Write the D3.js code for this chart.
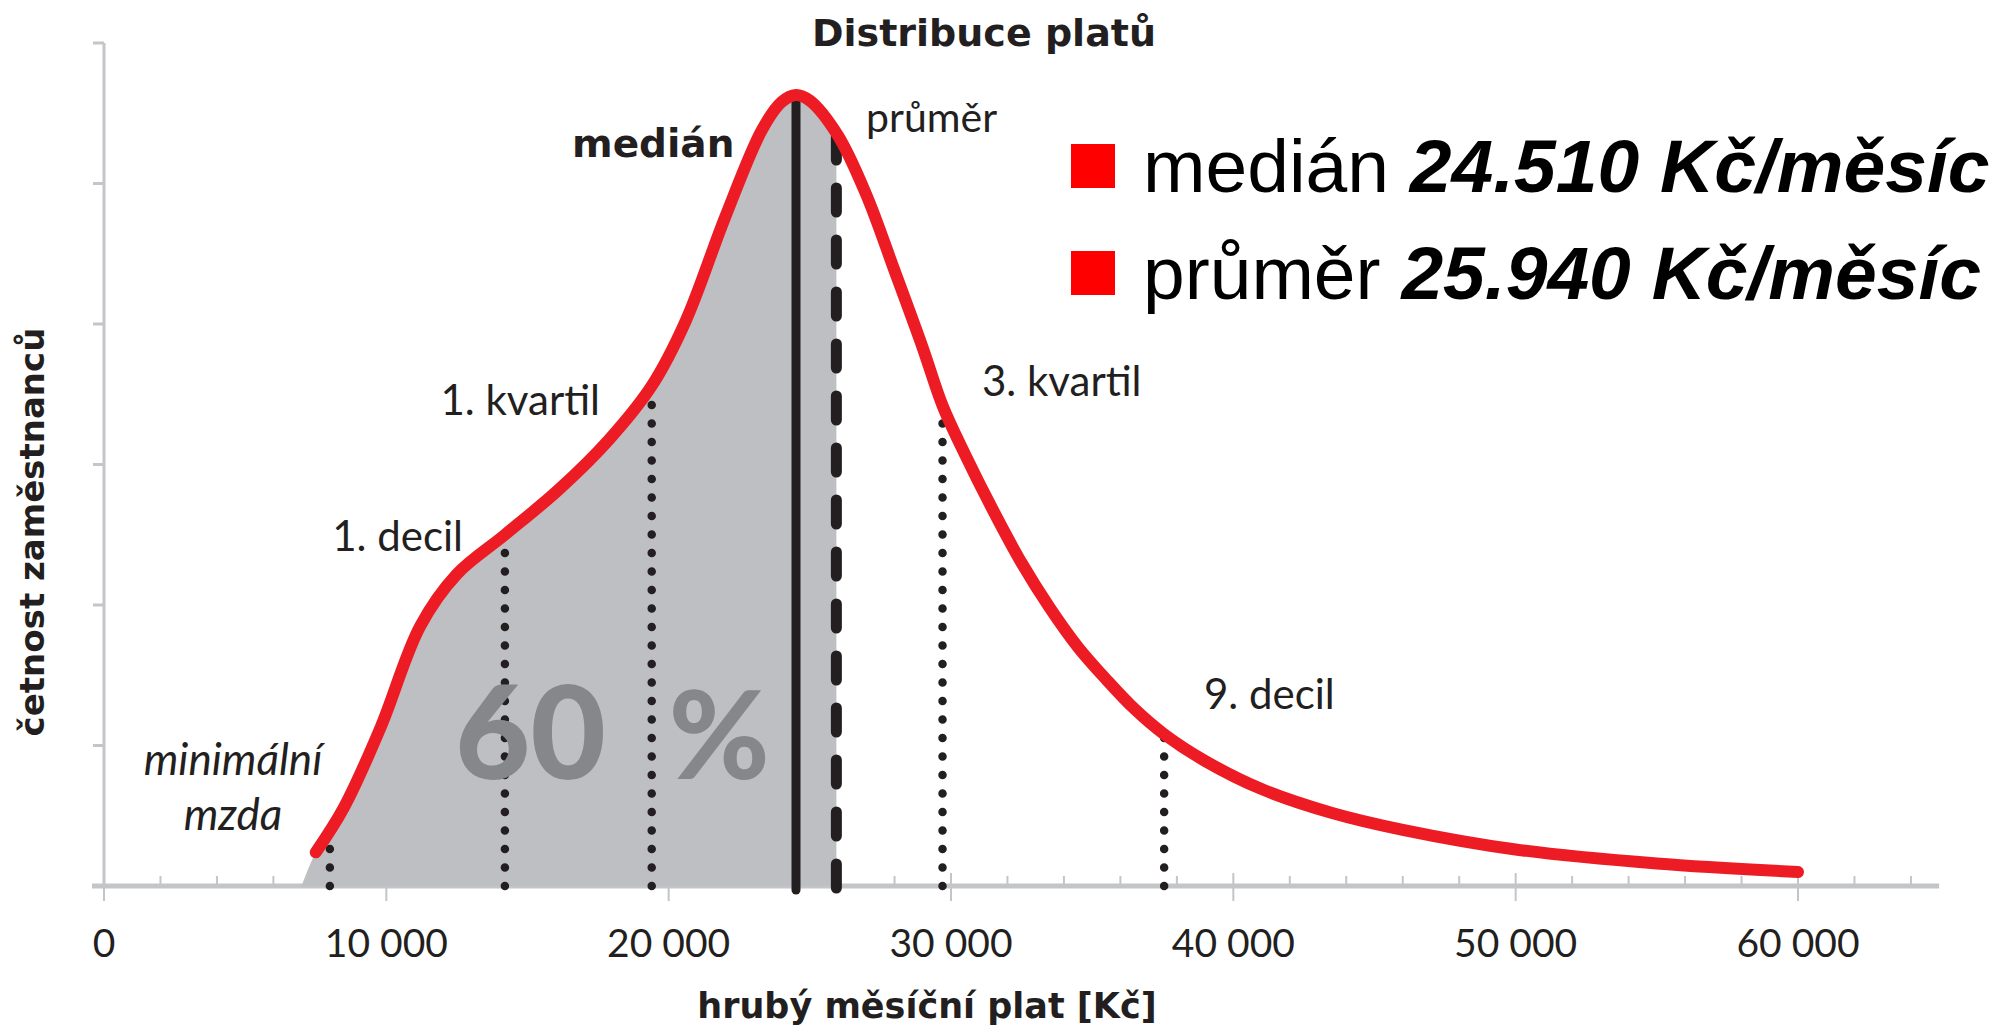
<!DOCTYPE html>
<html>
<head>
<meta charset="utf-8">
<script src="https://cdn.jsdelivr.net/npm/d3@7"></script>
<style>
  body { margin: 0; background: #fff; }
  svg { display: block; }
  text { font-family: Lato, "Open Sans", sans-serif; fill: #231f20; }
  .bold { font-family: "DejaVu Sans", sans-serif; font-weight: bold; }
</style>
</head>
<body>
<div id="chart"></div>
<script>
// curve of the distribution (salary in Kč, relative count)
const salaries = [7500, 8500, 9800, 11200, 12500, 14200, 16100, 17900, 19400, 20600,
    22000, 23300, 24000, 24500, 25000, 26000, 27000, 28000, 29000, 29700,
    30500, 31500, 32500, 33500, 34500, 35500, 36500, 37550, 39000, 41000,
    43500, 46000, 50000, 55000, 60000];
const counts = [2.4, 5.6, 11.3, 18.5, 22.2, 25.0, 28.2, 31.8, 35.6, 40.2,
    47.6, 53.8, 55.8, 56.3, 55.9, 53.4, 49.2, 43.8, 38.3, 34.2,
    30.7, 26.7, 23.0, 19.8, 17.0, 14.7, 12.6, 10.8, 8.9, 6.9,
    5.2, 4.0, 2.6, 1.6, 1.0];

// gray area starts on the axis here
const fillStart = 7000;

// dotted markers
const markerNames = ["minimální mzda", "1. decil", "1. kvartil", "3. kvartil", "9. decil"];
const markerSalaries = [8000, 14200, 19400, 29700, 37550];
const markerHeights = [3.6, 25.0, 35.6, 34.2, 10.8];

const medianSalary = 24510, medianHeight = 56.3;
const meanSalary = 25940, meanHeight = 53.4;

const xTicks = [0, 10000, 20000, 30000, 40000, 50000, 60000];
const xTickLabels = ["0", "10 000", "20 000", "30 000", "40 000", "50 000", "60 000"];
const yTicks = [0, 10, 20, 30, 40, 50, 60];

const legendNames = ["medián", "průměr"];
const legendValues = ["24.510 Kč/měsíc", "25.940 Kč/měsíc"];

const width = 1995, height = 1036;
const red = "#ed1c24", dark = "#231f20", axisGray = "#c4c5c8", fillGray = "#bebfc3";

const x = d3.scaleLinear().domain([0, 60000]).range([104, 1798]);
const y = d3.scaleLinear().domain([0, 60]).range([886, 43]);

const svg = d3.select("#chart").append("svg")
    .attr("width", width)
    .attr("height", height);

const pts = salaries.map((s, i) => ({ s: s, v: counts[i] }));

// axes
const axes = svg.append("g").attr("stroke", axisGray).attr("fill", "none");
axes.append("line")
    .attr("x1", x(0)).attr("x2", x(0))
    .attr("y1", y(60)).attr("y2", y(0))
    .attr("stroke-width", 3);
axes.selectAll(".ytick")
    .data(yTicks)
    .join("line")
    .attr("x1", x(0) - 11).attr("x2", x(0))
    .attr("y1", d => y(d)).attr("y2", d => y(d))
    .attr("stroke-width", 3);
axes.append("line")
    .attr("x1", x(0) - 12).attr("x2", x(65000))
    .attr("y1", y(0)).attr("y2", y(0))
    .attr("stroke-width", 5);
axes.selectAll(".minor")
    .data(d3.range(2000, 65001, 2000).filter(d => d % 10000 !== 0))
    .join("line")
    .attr("x1", d => x(d)).attr("x2", d => x(d))
    .attr("y1", y(0) - 10).attr("y2", y(0))
    .attr("stroke-width", 2);
axes.selectAll(".major")
    .data(xTicks)
    .join("line")
    .attr("x1", d => x(d)).attr("x2", d => x(d))
    .attr("y1", d => d === 0 ? y(0) : y(0) - 13).attr("y2", y(0) + 15)
    .attr("stroke-width", 2);

svg.append("g").selectAll("text")
    .data(xTicks)
    .join("text")
    .attr("x", d => x(d))
    .attr("y", 957)
    .attr("text-anchor", "middle")
    .attr("font-size", 39)
    .text((d, i) => xTickLabels[i]);

// gray area up to the mean
svg.append("clipPath").attr("id", "leftPart")
    .append("rect")
    .attr("x", 0).attr("y", 0)
    .attr("width", x(meanSalary))
    .attr("height", y(0));

const area = d3.area()
    .x(d => x(d.s))
    .y0(y(0))
    .y1(d => y(d.v))
    .curve(d3.curveCatmullRom.alpha(0.5));

svg.append("path")
    .datum([{ s: fillStart, v: 0 }].concat(pts))
    .attr("d", area)
    .attr("fill", fillGray)
    .attr("clip-path", "url(#leftPart)");

// dotted quantile lines
svg.append("g").selectAll("line")
    .data(markerSalaries)
    .join("line")
    .attr("x1", d => x(d)).attr("x2", d => x(d))
    .attr("y1", y(0))
    .attr("y2", (d, i) => y(markerHeights[i]))
    .attr("stroke", dark)
    .attr("stroke-width", 8.5)
    .attr("stroke-linecap", "round")
    .attr("stroke-dasharray", "0 18.5");

// "60 %"
const big = svg.append("text")
    .attr("x", 455)
    .attr("y", 779)
    .attr("font-size", 130)
    .attr("font-weight", 900)
    .style("fill", "#86878a");
big.append("tspan").text("60");
big.append("tspan").attr("dx", 34).attr("font-size", 122).text(" %");

// median and mean
svg.append("line")
    .attr("x1", x(medianSalary)).attr("x2", x(medianSalary))
    .attr("y1", y(0) + 4).attr("y2", y(medianHeight))
    .attr("stroke", dark)
    .attr("stroke-width", 9)
    .attr("stroke-linecap", "round");

svg.append("line")
    .attr("x1", x(meanSalary)).attr("x2", x(meanSalary))
    .attr("y1", y(0) + 2).attr("y2", y(meanHeight))
    .attr("stroke", dark)
    .attr("stroke-width", 11)
    .attr("stroke-linecap", "round")
    .attr("stroke-dasharray", "24 28");

// red curve
const line = d3.line()
    .x(d => x(d.s))
    .y(d => y(d.v))
    .curve(d3.curveCatmullRom.alpha(0.5));

svg.append("path")
    .datum(pts)
    .attr("d", line)
    .attr("fill", "none")
    .attr("stroke", red)
    .attr("stroke-width", 12)
    .attr("stroke-linecap", "round");

// annotations
svg.append("text").attr("x", 463).attr("y", 551).attr("text-anchor", "end")
    .attr("font-size", 42).text(markerNames[1]);
svg.append("text").attr("x", 600).attr("y", 415).attr("text-anchor", "end")
    .attr("font-size", 42).text(markerNames[2]);
svg.append("text").attr("x", 982).attr("y", 396)
    .attr("font-size", 42).text(markerNames[3]);
svg.append("text").attr("x", 1204).attr("y", 709)
    .attr("font-size", 42).text(markerNames[4]);
const minWage = markerNames[0].split(" ");
svg.append("text").attr("x", 233).attr("y", 775).attr("text-anchor", "middle")
    .attr("font-size", 44).attr("font-style", "italic").text(minWage[0]);
svg.append("text").attr("x", 233).attr("y", 830).attr("text-anchor", "middle")
    .attr("font-size", 44).attr("font-style", "italic").text(minWage[1]);

svg.append("text").attr("class", "bold").attr("x", 572).attr("y", 157)
    .attr("font-size", 39).text("medián");
svg.append("text").attr("x", 866).attr("y", 132)
    .attr("font-size", 41).text("průměr");

// titles
svg.append("text").attr("class", "bold")
    .attr("x", 984).attr("y", 46)
    .attr("text-anchor", "middle")
    .attr("font-size", 38)
    .text("Distribuce platů");

svg.append("text").attr("class", "bold")
    .attr("x", 927).attr("y", 1018)
    .attr("text-anchor", "middle")
    .attr("font-size", 35)
    .text("hrubý měsíční plat [Kč]");

svg.append("text").attr("class", "bold")
    .attr("transform", "translate(44,532) rotate(-90)")
    .attr("text-anchor", "middle")
    .attr("font-size", 34)
    .text("četnost zaměstnanců");

// legend
const legend = svg.append("g").selectAll("g")
    .data(legendNames)
    .join("g")
    .attr("transform", (d, i) => `translate(1071,${144 + i * 107})`);

legend.append("rect")
    .attr("width", 44).attr("height", 44)
    .attr("fill", "#ff0000");

const lt = legend.append("text")
    .attr("x", 72).attr("y", 48)
    .attr("font-size", 75)
    .style("font-family", "'Liberation Sans', Arial, sans-serif")
    .style("fill", "#000");
lt.append("tspan").text(d => d + " ");
lt.append("tspan")
    .attr("font-weight", "bold")
    .attr("font-style", "italic")
    .text((d, i) => legendValues[i]);
</script>
</body>
</html>
